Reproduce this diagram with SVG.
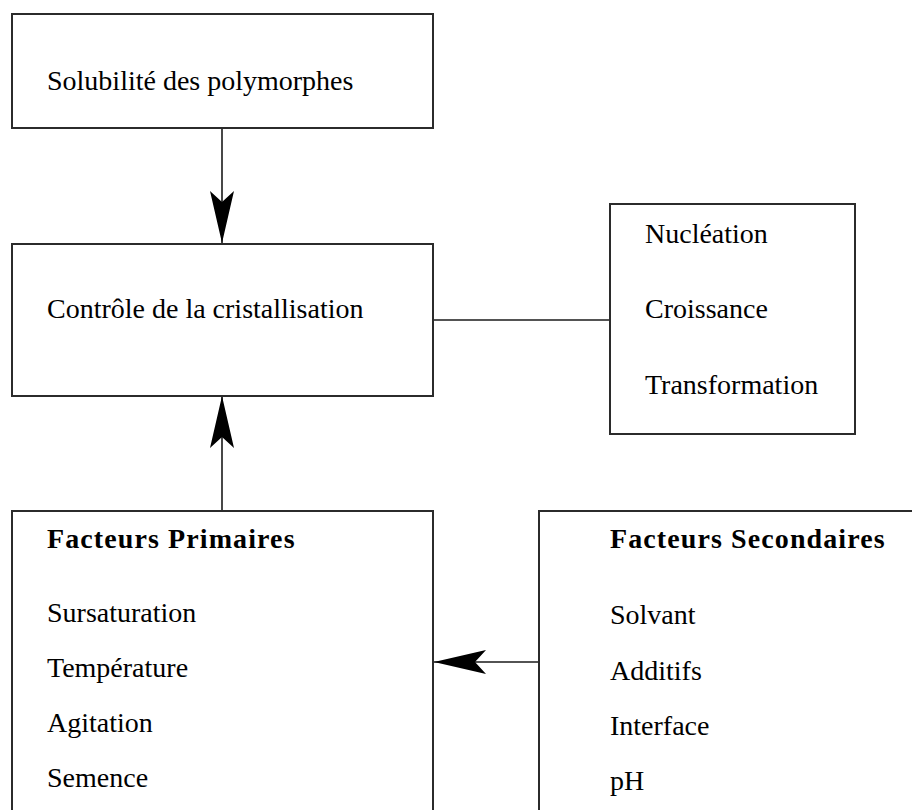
<svg xmlns="http://www.w3.org/2000/svg" width="912" height="810" viewBox="0 0 912 810">
  <style>
    .box { fill: #ffffff; stroke: #2b2b2b; stroke-width: 2; }
    .wire { fill: none; stroke: #1a1a1a; stroke-width: 1.6; }
    .t { font-family: "Liberation Serif", "Times New Roman", serif; font-size: 28px; fill: #000; }
    .h { font-weight: bold; letter-spacing: 1.1px; }
  </style>
  <defs>
    <marker id="barb" markerUnits="userSpaceOnUse" viewBox="-53 -13 54 26" refX="0" refY="0" markerWidth="54" markerHeight="26" orient="auto">
      <path d="M0,0 L-52,-12 L-41,0 L-52,12 Z" fill="#000"/>
    </marker>
  </defs>
  <rect width="912" height="810" fill="#ffffff"/>

  <g id="connectors">
    <line class="wire" x1="222" y1="128" x2="222" y2="243" marker-end="url(#barb)"/>
    <line class="wire" x1="222" y1="511" x2="222" y2="396" marker-end="url(#barb)"/>
    <line class="wire" x1="433" y1="320" x2="610" y2="320"/>
    <line class="wire" x1="539" y1="662" x2="434" y2="662" marker-end="url(#barb)"/>
  </g>

  <g id="solubilite">
    <rect class="box" x="12" y="14" width="421" height="114"/>
    <text class="t" x="47" y="90">Solubilité des polymorphes</text>
  </g>

  <g id="controle">
    <rect class="box" x="12" y="244" width="421" height="152"/>
    <text class="t" x="47" y="318">Contrôle de la cristallisation</text>
  </g>

  <g id="mecanismes">
    <rect class="box" x="610" y="204" width="245" height="230"/>
    <text class="t" x="645" y="243">Nucléation</text>
    <text class="t" x="645" y="318">Croissance</text>
    <text class="t" x="645" y="394">Transformation</text>
  </g>

  <g id="facteurs-primaires">
    <rect class="box" x="12" y="511" width="421" height="330"/>
    <text class="t h" x="47" y="548">Facteurs Primaires</text>
    <text class="t" x="47" y="622">Sursaturation</text>
    <text class="t" x="47" y="677">Température</text>
    <text class="t" x="47" y="732">Agitation</text>
    <text class="t" x="47" y="787">Semence</text>
  </g>

  <g id="facteurs-secondaires">
    <rect class="box" x="539" y="511" width="400" height="330"/>
    <text class="t h" x="610" y="548">Facteurs Secondaires</text>
    <text class="t" x="610" y="624">Solvant</text>
    <text class="t" x="610" y="680">Additifs</text>
    <text class="t" x="610" y="735">Interface</text>
    <text class="t" x="610" y="790">pH</text>
  </g>
</svg>
